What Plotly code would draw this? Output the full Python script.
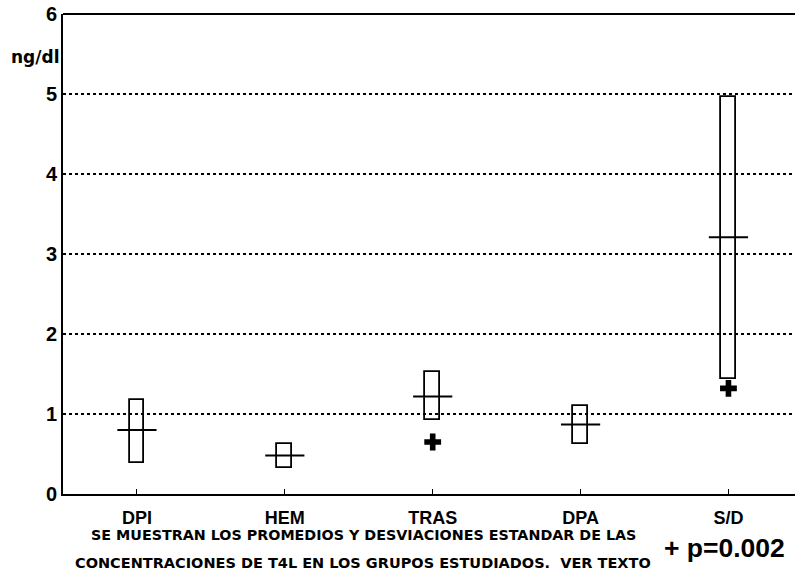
import plotly.graph_objects as go

categories = ["DPI", "HEM", "TRAS", "DPA", "S/D"]
mean_vals = [0.80, 0.48, 1.22, 0.87, 3.21]
lower_vals = [0.39, 0.32, 0.92, 0.63, 1.44]
upper_vals = [1.17, 0.63, 1.52, 1.10, 4.96]
signif_vals = [None, None, 0.65, None, 1.32]
y_ticks = [0, 1, 2, 3, 4, 5, 6]

W, H = 795, 574
L, R, T, B = 63, 0, 14, 80
pw, ph = W - L - R, H - T - B

def px(x):
    return (x - L) / pw

def py(y):
    return (H - B - y) / ph

fig = go.Figure()

fig.add_trace(go.Bar(
    x=categories,
    y=[u - l for u, l in zip(upper_vals, lower_vals)],
    base=lower_vals,
    width=0.1,
    marker=dict(color="rgba(0,0,0,0)", line=dict(color="black", width=1.8)),
    hoverinfo="skip",
    showlegend=False,
))

fig.add_trace(go.Scatter(
    x=categories, y=mean_vals, mode="markers",
    marker=dict(symbol="line-ew", size=28, line=dict(color="black", width=2)),
    showlegend=False,
))

fig.add_trace(go.Scatter(
    x=categories, y=signif_vals, mode="markers",
    marker=dict(symbol="cross", size=14, color="black", line=dict(width=0)),
    showlegend=False,
))

fig.add_shape(type="line", xref="paper", yref="paper", x0=0, x1=1, y0=1, y1=1,
              line=dict(color="black", width=2))

bold = "Liberation Sans"
fig.update_layout(
    width=W, height=H,
    margin=dict(l=L, r=R, t=T, b=B),
    paper_bgcolor="white", plot_bgcolor="white",
    bargap=0,
    xaxis=dict(
        type="category", range=[-0.5, 4.45],
        showline=True, linecolor="black", linewidth=2,
        ticks="inside", ticklen=5, tickcolor="black", tickwidth=1,
        showgrid=False,
        tickfont=dict(family=bold, size=18, color="black", weight="bold"),
        ticklabelstandoff=6,
    ),
    yaxis=dict(
        range=[0, 6], tickvals=y_ticks,
        showline=True, linecolor="black", linewidth=2,
        ticks="outside", ticklen=0, tickcolor="black",
        showgrid=True, gridcolor="black", griddash="dot", gridwidth=1.5,
        zeroline=False,
        tickfont=dict(family=bold, size=20, color="black", weight="bold"),
    ),
    annotations=[
        dict(text="ng/dl", xref="paper", yref="paper", x=px(61), y=py(57),
             xanchor="right", yanchor="middle", showarrow=False,
             font=dict(family="DejaVu Sans", size=17, color="black", weight="bold")),
        dict(text="SE MUESTRAN LOS PROMEDIOS Y DESVIACIONES ESTANDAR DE LAS",
             xref="paper", yref="paper", x=px(363), y=py(535),
             xanchor="center", yanchor="middle", showarrow=False,
             font=dict(family="DejaVu Sans", size=14.3, color="black", weight="bold")),
        dict(text="CONCENTRACIONES DE T4L EN LOS GRUPOS ESTUDIADOS.  VER TEXTO",
             xref="paper", yref="paper", x=px(363), y=py(563),
             xanchor="center", yanchor="middle", showarrow=False,
             font=dict(family="DejaVu Sans", size=14.5, color="black", weight="bold")),
        dict(text="+ p=0.002", xref="paper", yref="paper", x=px(724), y=py(548),
             xanchor="center", yanchor="middle", showarrow=False,
             font=dict(family=bold, size=26.5, color="black", weight="bold")),
    ],
)

fig.write_html(
    "out.html",
    config={"displayModeBar": False},
    post_script="document.body.style.margin='0';document.body.style.padding='0';"
                "document.body.style.overflow='hidden';",
)
